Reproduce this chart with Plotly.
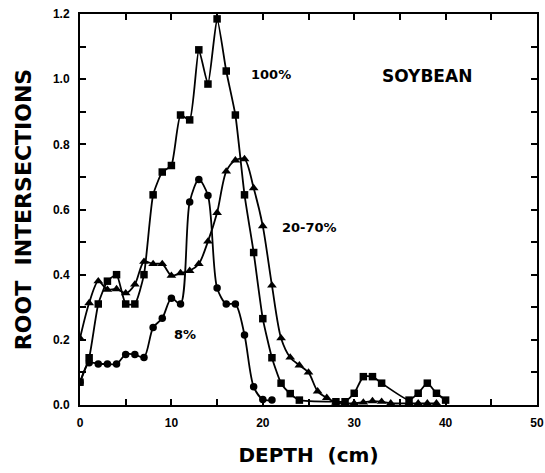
import plotly.graph_objects as go

depth_100 = [0, 1, 2, 3, 4, 5, 6, 7, 8, 9, 10, 11, 12, 13, 14, 15, 16, 17, 18, 19, 20,
             21, 22, 23, 24, 28, 29, 30, 31, 32, 33, 36, 37, 38, 39, 40]
roots_100 = [0.07, 0.145, 0.31, 0.38, 0.40, 0.31, 0.31, 0.40, 0.645, 0.715, 0.735, 0.89,
             0.875, 1.09, 0.985, 1.185, 1.025, 0.89, 0.645, 0.468, 0.265, 0.145, 0.067,
             0.035, 0.015, 0.01, 0.01, 0.036, 0.087, 0.087, 0.067, 0.015, 0.036, 0.067,
             0.036, 0.015]

depth_mid = [0, 1, 2, 3, 4, 5, 6, 7, 8, 9, 10, 11, 12, 13, 14, 15, 16, 17, 18, 19, 20,
             21, 22, 23, 24, 25, 26, 27, 28, 29, 30, 31, 32, 33, 34, 36, 37, 38, 39]
roots_mid = [0.205, 0.313, 0.38, 0.354, 0.356, 0.343, 0.37, 0.44, 0.433, 0.433, 0.397,
             0.405, 0.412, 0.433, 0.502, 0.59, 0.717, 0.751, 0.755, 0.666, 0.549, 0.367,
             0.205, 0.146, 0.122, 0.10, 0.042, 0.022, 0.008, 0.005, 0.005, 0.008, 0.012,
             0.01, 0.005, 0.005, 0.005, 0.005, 0.005]

depth_8 = [0, 1, 2, 3, 4, 5, 6, 7, 8, 9, 10, 11, 12, 13, 14, 15, 16, 17, 18, 19, 20, 21]
roots_8 = [0.07, 0.13, 0.126, 0.126, 0.126, 0.155, 0.155, 0.146, 0.238, 0.266, 0.328,
           0.31, 0.623, 0.692, 0.643, 0.359, 0.31, 0.31, 0.215, 0.056, 0.017, 0.015]

x_tick_vals = [0, 10, 20, 30, 40, 50]
y_tick_vals = [0.0, 0.2, 0.4, 0.6, 0.8, 1.0, 1.2]

labels = [
    (20.9, 1.015, "100%"),
    (38.0, 1.01, "SOYBEAN"),
    (25.1, 0.546, "20-70%"),
    (11.5, 0.215, "8%"),
]

FONT = "Liberation Sans"
TITLE_FONT = "DejaVu Sans"

fig = go.Figure()
fig.add_trace(go.Scatter(
    x=depth_100, y=roots_100, mode="lines+markers", name="100%",
    line=dict(color="black", width=1.8, shape="spline", smoothing=0.5),
    marker=dict(symbol="square", size=7.5, color="black"),
))
fig.add_trace(go.Scatter(
    x=depth_mid, y=roots_mid, mode="lines+markers", name="20-70%",
    line=dict(color="black", width=1.8, shape="spline", smoothing=0.8),
    marker=dict(symbol="triangle-up", size=8.5, color="black"),
))
fig.add_trace(go.Scatter(
    x=depth_8, y=roots_8, mode="lines+markers", name="8%",
    line=dict(color="black", width=1.8, shape="spline", smoothing=0.8),
    marker=dict(symbol="circle", size=7.5, color="black"),
))

for x, y, t in labels:
    big = t == "SOYBEAN"
    fig.add_annotation(
        x=x, y=y, text=t, showarrow=False, xanchor="center", yanchor="middle",
        font=dict(family=TITLE_FONT, size=17 if big else 13,
                  color="black", weight="bold"),
    )

axis_common = dict(
    showline=True, linecolor="black", linewidth=2, mirror="ticks",
    ticks="inside", ticklen=6, tickwidth=1.5, tickcolor="black",
    showgrid=False, zeroline=False, automargin=False,
    tickfont=dict(family=FONT, size=12, color="black", weight="bold"),
)

fig.update_xaxes(
    range=[0, 50], tickvals=x_tick_vals, ticklabelstandoff=6,
    minor=dict(dtick=5, ticks="inside", ticklen=6, tickwidth=1.5, tickcolor="black"),
    title=dict(text="DEPTH  (cm)", standoff=19,
               font=dict(family=TITLE_FONT, size=20, color="black", weight="bold")),
    **axis_common,
)
fig.update_yaxes(
    range=[0, 1.2], tickvals=y_tick_vals, tickformat=".1f", ticklabelstandoff=6,
    minor=dict(dtick=0.1, ticks="inside", ticklen=6, tickwidth=1.5, tickcolor="black"),
    title=dict(text="ROOT  INTERSECTIONS", standoff=15,
               font=dict(family=TITLE_FONT, size=22, color="black", weight="bold")),
    **axis_common,
)

fig.update_layout(
    width=545, height=473,
    margin=dict(l=80, r=8, t=14, b=68),
    plot_bgcolor="white", paper_bgcolor="white",
    showlegend=False,
)

fig.write_html("out.html")
